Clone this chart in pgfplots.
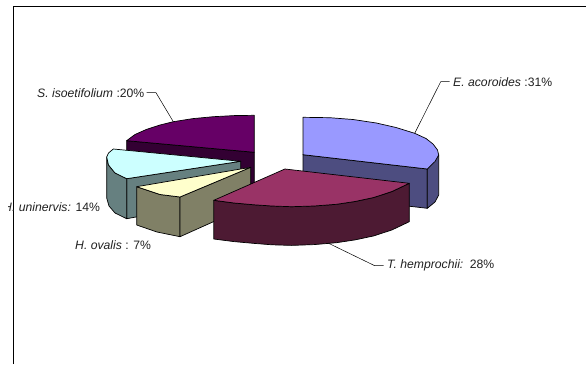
\documentclass[border=0pt]{standalone}
\usepackage{fontspec}
\setmainfont{Liberation Sans}
\usepackage{pgfplots}
\pgfplotsset{compat=1.18}
\definecolor{sTop}{HTML}{660066}\definecolor{sSide}{HTML}{330033}
\definecolor{uTop}{HTML}{CCFFFF}\definecolor{uSide}{HTML}{668080}
\definecolor{oTop}{HTML}{FFFFCC}\definecolor{oSide}{HTML}{808066}
\definecolor{tTop}{HTML}{993366}\definecolor{tSide}{HTML}{4D1A33}
\definecolor{eTop}{HTML}{9999FF}\definecolor{eSide}{HTML}{4D4D80}
\definecolor{lab}{HTML}{222222}
\tikzset{lbl/.style={font=\fontsize{12.2}{14}\selectfont,text=lab,inner sep=0pt,anchor=west}}
\begin{document}
\begin{tikzpicture}
\begin{axis}[scale only axis,width=586pt,height=364pt,xmin=0,xmax=586,ymin=0,ymax=364,y dir=reverse,
  axis lines=none,clip=true,
  every axis plot/.append style={no markers,line width=0.7pt,line join=round}]
% page background (fixes the picture's extent)
\addplot[fill=white,draw=none] coordinates {(0,0)(586,0)(586,364)(0,364)} --cycle;
% frame
\addplot[black,line width=0.9pt] coordinates {(13.6,364) (13.6,6) (586,6)};
% S. isoetifolium
\addplot[fill=sSide,draw=black] coordinates {(126.7,140.7)(254.3,152.3)(254.3,184)(126.7,166)} --cycle;
\addplot[fill=sTop,draw=black] coordinates {(254.3,115.3)(254.3,152.3)(126.7,140.7)(135,134.5)(146.7,129.3)(160,125)(173.3,121.7)(193,118.6)(213.3,116.7)(234,115.6)} --cycle;
% E. acoroides
\addplot[fill=eSide,draw=black] coordinates {(303,154.7)(427.3,169)(427.3,208.3)(303,194)} --cycle;
\addplot[fill=eSide,draw=black] coordinates {(427.3,169)(438.7,155)(438.7,195)(435,202)(427.3,208.3)} --cycle;
\addplot[fill=eTop,draw=black] coordinates {(303,117.3)(329.7,117.7)(353,119.5)(376.3,123)(396,127.5)(414.7,133.3)(426,138.5)(433,144)(437.5,150)(438.7,155)(435,161.5)(427.3,169)(303,154.7)} --cycle;
% H. uninervis
\addplot[fill=uSide,draw=black] coordinates {(126.7,178.7)(240.7,161.3)(240.7,198)(126.7,218.7)} --cycle;
\addplot[fill=uSide,draw=black] coordinates {(106.7,157)(106.7,198)(109,206)(115,213)(126.7,218.7)(126.7,178.7)(115,173)(108.5,165)} --cycle;
\addplot[fill=uTop,draw=black] coordinates {(240.7,161.3)(126.7,178.7)(115,173)(108.5,165)(106.7,157)(108.5,153)(113.3,149)} --cycle;
% H. ovalis
\addplot[fill=oSide,draw=black] coordinates {(136.7,186.7)(136.7,225)(157,232)(180,236.7)(180,197)(160,194.5)} --cycle;
\addplot[fill=oSide,draw=black] coordinates {(180,197)(250.7,167.3)(250.7,205)(180,236.7)} --cycle;
\addplot[fill=oTop,draw=black] coordinates {(250.7,167.3)(180,197)(160,194.5)(136.7,186.7)} --cycle;
% T. hemprochii
\addplot[fill=tSide,draw=black] coordinates {(213.8,200.3)(234,203)(254.2,204.8)(272,206)(291.6,206.7)(314,206)(336.4,204.3)(355,201.5)(373.8,197.5)(392,191.5)(409.3,183.3)(409.3,221.7)(392,229.9)(373.8,235.9)(355,239.9)(336.4,242.7)(314,244.6)(291.6,245.4)(272,244.8)(254.2,243.4)(234,241.6)(213.8,239)} --cycle;
\addplot[fill=tTop,draw=black] coordinates {(284.9,169)(409.3,183.3)(392,191.5)(373.8,197.5)(355,201.5)(336.4,204.3)(314,206)(291.6,206.7)(272,206)(254.2,204.8)(234,203)(213.8,200.3)} --cycle;
% leaders
\addplot[black,line width=0.5pt] coordinates {(414.7,133.3)(440.7,81.7)(449.7,81.7)};
\addplot[black,line width=0.5pt] coordinates {(328,243)(374.7,265.7)(383.7,265.7)};
\addplot[black,line width=0.5pt] coordinates {(173.3,121.7)(156,92.7)(146.7,92.7)};
% labels
\node[lbl] at (axis cs:453,81.7) {\textit{E. acoroides }:31\%};
\node[lbl] at (axis cs:37,92.7) {\textit{S. isoetifolium }:20\%};
\node[lbl] at (axis cs:387,265) {\textit{T. hemprochii:}\, 28\%};
\node[lbl] at (axis cs:75,245) {\textit{H. ovalis }: 7\%};
\node[lbl] at (axis cs:3,207) {\textit{H. uninervis:} 14\%};
\addplot[fill=white,draw=none] coordinates {(0,198)(7.6,198)(7.6,216)(0,216)} --cycle;
\end{axis}
\end{tikzpicture}
\end{document}
